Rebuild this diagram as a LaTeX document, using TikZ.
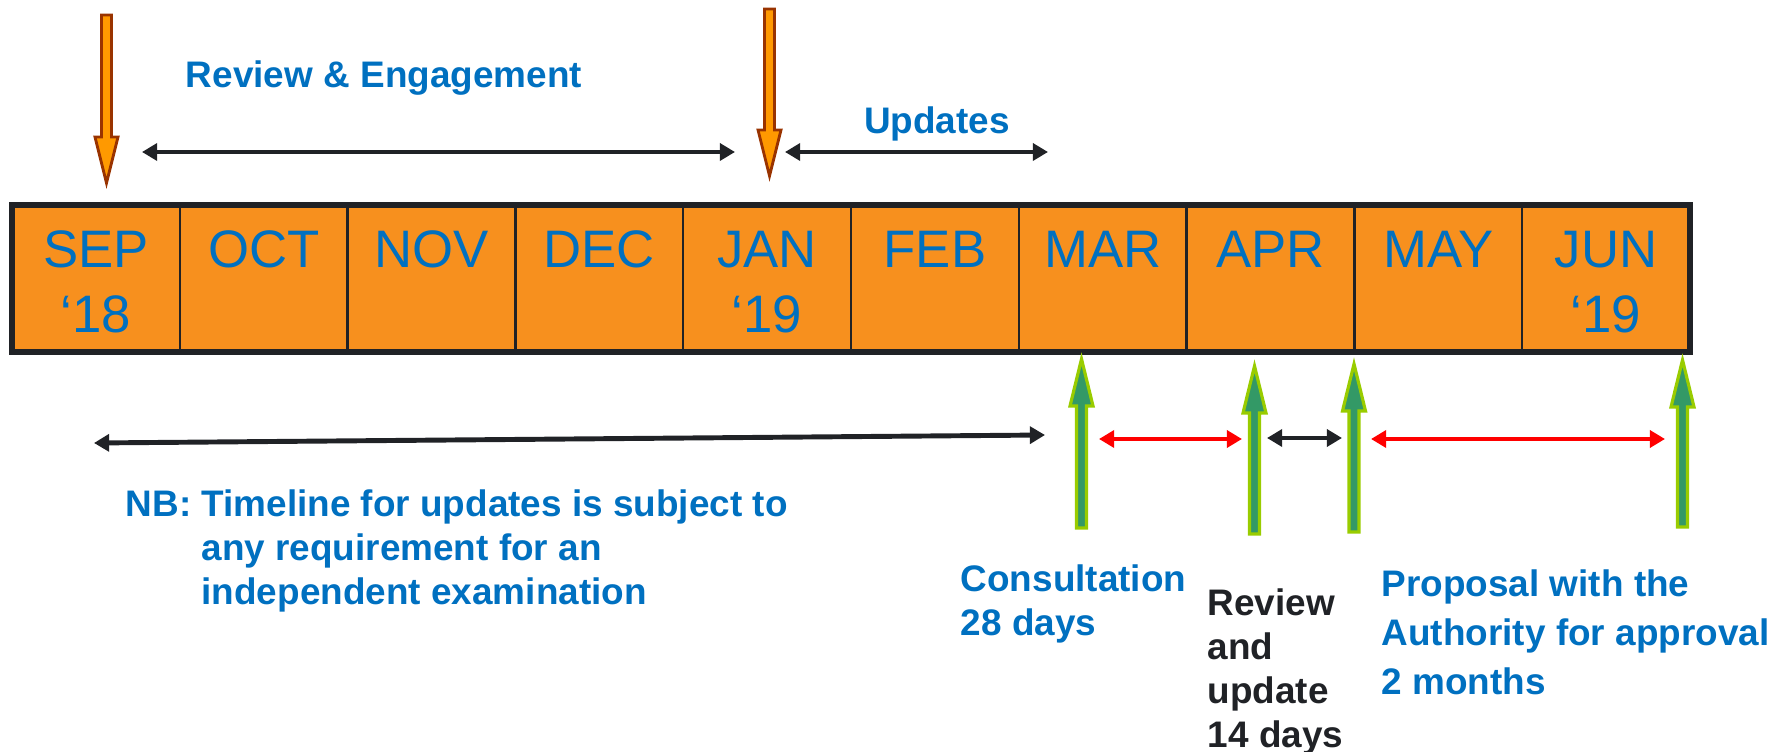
\documentclass[tikz,border=0pt]{standalone}
\usepackage{fontspec}
\setmainfont{Liberation Sans}
\usetikzlibrary{arrows.meta}

\definecolor{barorange}{RGB}{247,144,30}
\definecolor{textblue}{RGB}{0,112,192}
\definecolor{darkline}{RGB}{32,34,38}
\definecolor{arroworange}{RGB}{255,153,0}
\definecolor{arrowbrown}{RGB}{153,51,0}
\definecolor{arrowgreen}{RGB}{51,153,102}
\definecolor{arrowlime}{RGB}{153,204,0}

\tikzset{
  monthlabel/.style={text=textblue, font=\fontsize{15pt}{18pt}\selectfont, anchor=base, inner sep=0},
  bluenote/.style={text=textblue, font=\fontsize{10.5pt}{12.5pt}\selectfont\bfseries, inner sep=0},
  blacknote/.style={bluenote, text=darkline},
  span/.style={{Triangle[length=4.3pt,width=4.8pt]}-{Triangle[length=4.3pt,width=4.8pt]}, line width=1.4pt, draw=darkline},
  redspan/.style={span, draw=red},
  downmark/.style={fill=arroworange, draw=arrowbrown, line width=0.8pt},
  upmark/.style={fill=arrowgreen, draw=arrowlime, line width=0.9pt}
}

% block arrow pointing down: x, top, tip
\newcommand{\downblock}[3]{%
  \draw[downmark] (#1-5,#2) -- (#1+5,#2) -- (#1+5,#3-46) -- (#1+11.5,#3-46)
    -- (#1,#3) -- (#1-11.5,#3-46) -- (#1-5,#3-46) -- cycle;}
% block arrow pointing up: x, tip, bottom
\newcommand{\upblock}[3]{%
  \draw[upmark] (#1-5,#3) -- (#1+5,#3) -- (#1+5,#2+47) -- (#1+11.5,#2+47)
    -- (#1,#2) -- (#1-11.5,#2+47) -- (#1-5,#2+47) -- cycle;}

\begin{document}
\begin{tikzpicture}[x=0.01cm, y=-0.01cm]
\useasboundingbox (0,0) rectangle (1785,752);

% months bar
\fill[barorange] (12,205) rectangle (1690,352);
\foreach \i in {1,...,9}
  \draw[darkline, line width=0.7pt] ({12+167.8*\i},205) -- ({12+167.8*\i},352);
\draw[darkline, line width=1.7pt] (12,205) rectangle (1690,352);

\foreach \m [count=\i] in {SEP,OCT,NOV,DEC,JAN,FEB,MAR,APR,MAY,JUN}
  \node[monthlabel] (m\i) at ({12+167.8*(\i-0.5)},268) {\m};
\node[monthlabel] (yr1) at ({12+167.8*0.5},333) {‘18};
\node[monthlabel] (yr5) at ({12+167.8*4.5},333) {‘19};
\node[monthlabel] (yr10) at ({12+167.8*9.5},333) {‘19};

% orange markers
\downblock{106.5}{15}{183}
\downblock{769.5}{9}{176}

% green markers
\foreach \x/\t/\b in {1081.5/359/528, 1254.5/366/534, 1354/364/532, 1682.5/360/527}
  \upblock{\x}{\t}{\b};

% spans
\coordinate (rev-l) at (142,152);
\coordinate (rev-r) at (735,152);
\coordinate (upd-l) at (785,152);
\coordinate (upd-r) at (1048,152);
\coordinate (nb-l) at (94,443);
\coordinate (nb-r) at (1045,435);
\coordinate (con-l) at (1099,439);
\coordinate (con-r) at (1242,439);
\coordinate (rvu-l) at (1267,438);
\coordinate (rvu-r) at (1342,438);
\coordinate (apr-l) at (1371,439);
\coordinate (apr-r) at (1665,439);

\draw[span] (rev-l) -- (rev-r);
\draw[span] (upd-l) -- (upd-r);
\draw[span] (nb-l) -- (nb-r);
\draw[redspan] (con-l) -- (con-r);
\draw[span] (rvu-l) -- (rvu-r);
\draw[redspan] (apr-l) -- (apr-r);

% labels
\node[bluenote, anchor=base] (revlabel) at (384,88) {Review \& Engagement};
\node[bluenote, anchor=base] (updlabel) at (937,134) {Updates};
\node[bluenote, anchor=north west, align=left] (nbnote) at (125,489)
  {NB: Timeline for updates is subject to\\\phantom{NB: }any requirement for an\\\phantom{NB: }independent examination};
\node[bluenote, anchor=north west, align=left] (consult) at (960,564) {Consultation\\28 days};
\node[blacknote, anchor=north west, align=left] (revupd) at (1207,588) {Review\\and\\update\\14 days};
\node[bluenote, anchor=north west, align=left, font=\fontsize{10.5pt}{14pt}\selectfont\bfseries] (proposal) at (1381,569)
  {Proposal with the\\Authority for approval\\2 months};
\end{tikzpicture}
\end{document}
